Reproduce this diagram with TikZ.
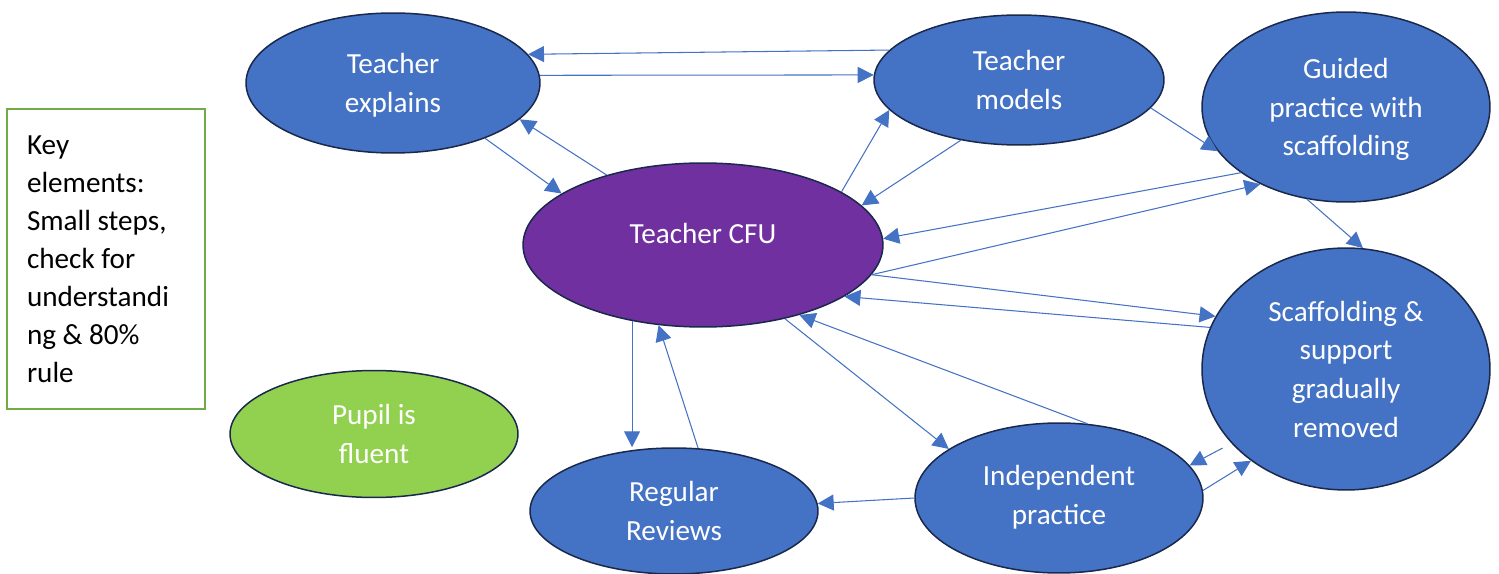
\documentclass[tikz,border=0pt]{standalone}
\usepackage{fontspec}
\setmainfont{Carlito}
\usepackage{xcolor}
\usepackage{tikz}
\usetikzlibrary{shapes.geometric}
\usetikzlibrary{arrows.meta}
\definecolor{stageblue}{RGB}{68, 114, 196}
\definecolor{cfupurple}{RGB}{112, 48, 160}
\definecolor{fluentgreen}{RGB}{146, 208, 80}
\definecolor{keygreen}{RGB}{112, 173, 71}
\definecolor{outline}{RGB}{25, 40, 75}

\begin{document}
\begin{tikzpicture}[x=0.02cm, y=-0.02cm,
            main/.style = {ellipse, draw=outline, line width=0.85pt, fill=stageblue, text=white, align=center, inner sep=0pt, text depth=0pt, font=\fontsize{16.6}{22}\selectfont},
            check/.style = {main, fill=cfupurple},
            fluent/.style = {main, fill=fluentgreen},
            link/.style = {-{Triangle[length=0.32cm, width=0.32cm]}, draw=stageblue, line width=0.6pt}]
        \useasboundingbox (0,0) rectangle (1499,574);

        % stages of the lesson, sizes in cm
        \node[main, minimum width=5.88cm, minimum height=2.8cm] (explains) at (393,83) {Teacher\\explains};
        \node[main, minimum width=5.8cm, minimum height=2.6cm] (models) at (1019,80) {Teacher\\models};
        \node[main, minimum width=5.76cm, minimum height=3.8cm] (guided) at (1346,107) {Guided\\practice with\\scaffolding};
        \node[check, minimum width=7.2cm, minimum height=3.28cm] (cfu) at (703,245) {\raisebox{0.48cm}{Teacher CFU}};
        \node[main, minimum width=5.76cm, minimum height=4.84cm] (scaffold) at (1346,369) {Scaffolding \&\\support\\gradually\\removed};
        \node[fluent, minimum width=5.76cm, minimum height=2.54cm] (fluent) at (374,434) {Pupil is\\fluent};
        \node[main, minimum width=5.76cm, minimum height=2.52cm] (reviews) at (674,511) {Regular\\Reviews};
        \node[main, minimum width=5.76cm, minimum height=3cm, text depth=0.12cm] (independent) at (1059,498) {Independent\\practice};

        \node[draw=keygreen, line width=1.1pt, text width=3.16cm, inner xsep=0.4cm, minimum height=6cm, align=flush left, font=\fontsize{16.6}{21.6}\selectfont] (key) at (106,259) {Key\\elements:\\Small steps,\\check for\\understandi\\ng \& 80\%\\rule};

        % arrows between the stages
        \draw[link] (models.167) -- (explains.12.5);
        \draw[link] (explains.3.9) -- (models.178);
        \draw[link] (explains.-31.8) -- (cfu.160);
        \draw[link] (cfu.144.5) -- (explains.-16.7);
        \draw[link] (cfu.21.7) -- (models.-167.6);
        \draw[link] (models.-134) -- (cfu.14.7);
        \draw[link] (models.-12) -- (guided.-161.3);
        \draw[link] (guided.-148.4) -- (cfu.2.5);
        \draw[link] (cfu.-10.3) -- (guided.-138.2);
        \draw[link] (cfu.-10.3) -- (scaffold.158.4);
        \draw[link] (scaffold.163.7) -- (cfu.-20.5);
        \draw[link] (guided.-113.8) -- (scaffold.82.6);
        \draw[link] (cfu.-42.4) -- (independent.156.3);
        \draw[link] (independent.69.5) -- (cfu.-36.5);
        \draw[link, shorten <=0.2cm] (scaffold.-147.4) -- (independent.14.8);
        \draw[link] (independent.3.2) -- (scaffold.-136.5);
        \draw[link] (cfu.-133.5) -- (cfu.-133.5 |- reviews.north);
        \draw[link] (reviews.69.6) -- (cfu.-119);
        \draw[link] (independent.west) -- (reviews.3.2);
\end{tikzpicture}
\end{document}
